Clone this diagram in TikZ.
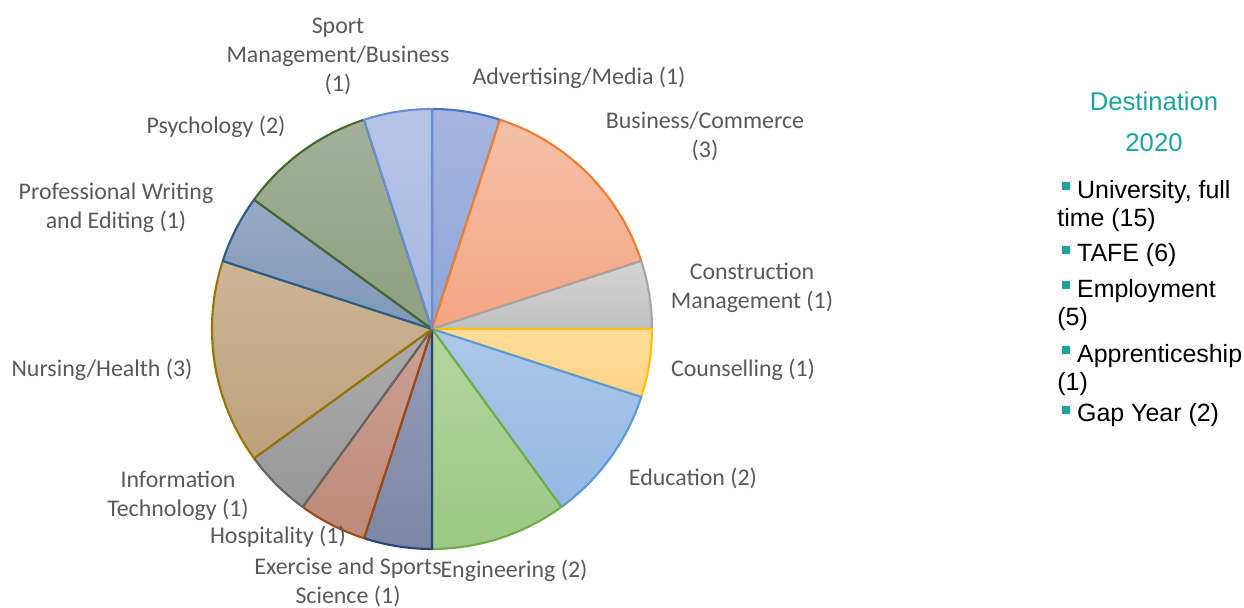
\documentclass[tikz,border=0pt]{standalone}
\usepackage{fontspec}
\setmainfont{Carlito}
\newfontfamily\legendfont{Liberation Sans}
\usepackage{tikz}
\usetikzlibrary{arrows}

\definecolor{labgrey}{HTML}{595959}
\definecolor{legteal}{HTML}{1AA3A0}
\definecolor{advB}{HTML}{4472C4}
\definecolor{busB}{HTML}{ED7D31}
\definecolor{conB}{HTML}{A5A5A5}
\definecolor{couB}{HTML}{FFC000}
\definecolor{eduB}{HTML}{5B9BD5}
\definecolor{engB}{HTML}{70AD47}
\definecolor{exeB}{HTML}{264478}
\definecolor{hosB}{HTML}{9E480E}
\definecolor{itB}{HTML}{636363}
\definecolor{nurB}{HTML}{997300}
\definecolor{proB}{HTML}{255E91}
\definecolor{psyB}{HTML}{43682B}
\definecolor{spoB}{HTML}{698ED0}

\begin{document}
\begin{tikzpicture}[line cap=round,line join=round,x=0.02cm,y=0.02cm,
  pieslice/.style={line width=1.2pt},
  pielabel/.style={inner sep=0pt,align=center,text=labgrey,font=\fontsize{13.6}{16.5}\selectfont},
  legentry/.style={inner sep=0pt,align=left,anchor=base west,font=\legendfont\fontsize{14.2}{16.5}\selectfont}]
\useasboundingbox (0,0) rectangle (1244,608);
\draw [pieslice, draw=advB, top color={rgb,255:red,166;green,181;blue,224}, bottom color={rgb,255:red,143;green,165;blue,216}] (432,279) -- ++(90:220) arc[start angle=90, end angle=72, radius=220] -- cycle;
\draw [pieslice, draw=busB, top color={rgb,255:red,245;green,192;blue,168}, bottom color={rgb,255:red,244;green,165;blue,130}] (432,279) -- ++(72:220) arc[start angle=72, end angle=18, radius=220] -- cycle;
\draw [pieslice, draw=conB, top color={rgb,255:red,212;green,212;blue,212}, bottom color={rgb,255:red,193;green,193;blue,193}] (432,279) -- ++(18:220) arc[start angle=18, end angle=0, radius=220] -- cycle;
\draw [pieslice, draw=couB, top color={rgb,255:red,255;green,221;blue,155}, bottom color={rgb,255:red,253;green,211;blue,132}] (432,279) -- ++(0:220) arc[start angle=0, end angle=-18, radius=220] -- cycle;
\draw [pieslice, draw=eduB, top color={rgb,255:red,172;green,199;blue,232}, bottom color={rgb,255:red,148;green,185;blue,227}] (432,279) -- ++(-18:220) arc[start angle=-18, end angle=-54, radius=220] -- cycle;
\draw [pieslice, draw=engB, top color={rgb,255:red,180;green,212;blue,160}, bottom color={rgb,255:red,157;green,200;blue,133}] (432,279) -- ++(-54:220) arc[start angle=-54, end angle=-90, radius=220] -- cycle;
\draw [pieslice, draw=exeB, top color={rgb,255:red,150;green,157;blue,182}, bottom color={rgb,255:red,124;green,135;blue,166}] (432,279) -- ++(-90:220) arc[start angle=-90, end angle=-108, radius=220] -- cycle;
\draw [pieslice, draw=hosB, top color={rgb,255:red,204;green,160;blue,150}, bottom color={rgb,255:red,190;green,138;blue,122}] (432,279) -- ++(-108:220) arc[start angle=-108, end angle=-126, radius=220] -- cycle;
\draw [pieslice, draw=itB, top color={rgb,255:red,173;green,173;blue,173}, bottom color={rgb,255:red,151;green,151;blue,151}] (432,279) -- ++(-126:220) arc[start angle=-126, end angle=-144, radius=220] -- cycle;
\draw [pieslice, draw=nurB, top color={rgb,255:red,205;green,181;blue,150}, bottom color={rgb,255:red,188;green,162;blue,124}] (432,279) -- ++(-144:220) arc[start angle=-144, end angle=-198, radius=220] -- cycle;
\draw [pieslice, draw=proB, top color={rgb,255:red,152;green,169;blue,196}, bottom color={rgb,255:red,128;green,152;blue,184}] (432,279) -- ++(-198:220) arc[start angle=-198, end angle=-216, radius=220] -- cycle;
\draw [pieslice, draw=psyB, top color={rgb,255:red,164;green,176;blue,156}, bottom color={rgb,255:red,140;green,160;blue,128}] (432,279) -- ++(-216:220) arc[start angle=-216, end angle=-252, radius=220] -- cycle;
\draw [pieslice, draw=spoB, top color={rgb,255:red,182;green,196;blue,230}, bottom color={rgb,255:red,166;green,184;blue,224}] (432,279) -- ++(-252:220) arc[start angle=-252, end angle=-270, radius=220] -- cycle;

\node [pielabel] (sport) at (338,552) {Sport\\Management/Business\\(1)};
\node [pielabel] (advert) at (579,530) {Advertising/Media (1)};
\node [pielabel] (business) at (705,472) {Business/Commerce\\(3)};
\node [pielabel] (construct) at (752,320) {Construction\\Management (1)};
\node [pielabel] (counsel) at (743,238) {Counselling (1)};
\node [pielabel] (educ) at (693,130) {Education (2)};
\node [pielabel] (engin) at (514,37) {Engineering (2)};
\node [pielabel] (exercise) at (348,26) {Exercise and Sports\\Science (1)};
\node [pielabel] (hospit) at (278,71) {Hospitality (1)};
\node [pielabel] (infotech) at (178,112) {Information\\Technology (1)};
\node [pielabel] (nursing) at (102,238) {Nursing/Health (3)};
\node [pielabel] (profwrit) at (116,400) {Professional Writing\\and Editing (1)};
\node [pielabel] (psych) at (216,481) {Psychology (2)};

\node [inner sep=0pt, align=center, text=legteal, font=\legendfont\fontsize{14.6}{23.3}\selectfont] (legtitle) at (1154,486) {Destination\\2020};
\node [legentry] (leguni) at (1057,381) {\hspace{2.5pt}\textcolor{legteal}{\rule[4.5pt]{4.8pt}{4.8pt}} University, full\\time (15)};
\node [legentry] (legtafe) at (1057,346) {\hspace{2.5pt}\textcolor{legteal}{\rule[4.5pt]{4.8pt}{4.8pt}} TAFE (6)};
\node [legentry] (legemp) at (1057,282) {\hspace{2.5pt}\textcolor{legteal}{\rule[4.5pt]{4.8pt}{4.8pt}} Employment\\(5)};
\node [legentry] (legapp) at (1057,217) {\hspace{2.5pt}\textcolor{legteal}{\rule[4.5pt]{4.8pt}{4.8pt}} Apprenticeship\\(1)};
\node [legentry] (leggap) at (1057,186) {\hspace{2.5pt}\textcolor{legteal}{\rule[4.5pt]{4.8pt}{4.8pt}} Gap Year (2)};
\end{tikzpicture}
\end{document}
